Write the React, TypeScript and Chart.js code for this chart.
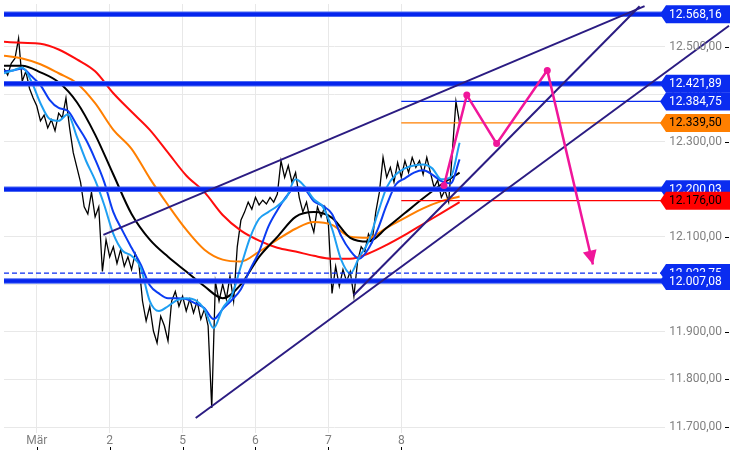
import React, { useEffect, useRef } from 'react';
import { Chart, registerables } from 'chart.js';
Chart.register(...registerables);

// ---- axis ranges (day index: 0 = 1 März) ----
const X_MIN = -0.45;
const X_MAX = 8.618;
const Y_MIN = 11687.5;
const Y_MAX = 12589.6;

const dayTicks = [0, 1, 2, 3, 4, 5];
const dayLabels = ['Mär', '2', '5', '6', '7', '8'];
const priceTicks = [11700, 11800, 11900, 12000, 12100, 12200, 12300, 12400, 12500];

// ---- price (intraday) ----
const priceStart = -0.45;
const priceStep = 0.05;
const price = [
  12454, 12440, 12465, 12475, 12517, 12427, 12448, 12412, 12392, 12375,
  12344, 12356, 12329, 12346, 12323, 12360, 12350, 12392, 12329, 12277,
  12246, 12215, 12163, 12148, 12194, 12142, 12163, 12027, 12094, 12058,
  12079, 12044, 12073, 12038, 12058, 12031, 12065, 12044, 11965, 11923,
  11954, 11902, 11877, 11933, 11913, 11881, 11965, 11985, 11954, 11975,
  11944, 11969, 11940, 11965, 11927, 11948, 11913, 11740, 12006, 11965,
  12000, 11969, 12017, 11965, 12079, 12135, 12152, 12173, 12158, 12183,
  12167, 12177, 12169, 12183, 12173, 12190, 12260, 12225, 12250, 12215,
  12235, 12183, 12152, 12173, 12135, 12110, 12163, 12142, 12163, 12127,
  11981, 12038, 11996, 12031, 12006, 12027, 11975, 12048, 12079, 12069,
  12106, 12090, 12152, 12194, 12267, 12225, 12246, 12215, 12256, 12225,
  12260, 12235, 12267, 12246, 12260, 12231, 12267, 12235, 12204, 12219,
  12183, 12198, 12173, 12277, 12384.75, 12339.5,
];

// ---- moving averages ----
const slowStart = -0.45;
const slowStep = 0.25;
const maRed = [
  12510, 12508, 12506, 12494, 12473, 12448, 12402, 12363, 12325, 12277,
  12229, 12194, 12146, 12113, 12092, 12077, 12069, 12060, 12054, 12054,
  12065, 12083, 12104, 12127, 12150, 12173,
];
const maOrange = [
  12481, 12475, 12463, 12444, 12423, 12381, 12325, 12285, 12223, 12167,
  12115, 12073, 12052, 12048, 12069, 12094, 12117, 12131, 12125, 12100,
  12098, 12119, 12140, 12160, 12175, 12185,
];
const maBlack = [
  12460, 12460, 12446, 12425, 12383, 12315, 12231, 12148, 12094, 12058,
  12027, 11996, 11971, 12000, 12058, 12100, 12142, 12152, 12140, 12098,
  12090, 12119, 12150, 12181, 12210, 12235,
];
const fastStart = -0.45;
const fastStep = 0.125;
const maBlue = [
  12448, 12450, 12454, 12438, 12419, 12388, 12371, 12365, 12335, 12304,
  12263, 12215, 12152, 12113, 12077, 12042, 11998, 11981, 11971, 11971,
  11969, 11960, 11950, 11927, 11948, 11967, 11990, 12031, 12069, 12121,
  12156, 12185, 12204, 12200, 12175, 12165, 12148, 12102, 12071, 12054,
  12075, 12115, 12167, 12210, 12223, 12235, 12240, 12231, 12217, 12212,
  12263,
];
const maLightBlue = [
  12444, 12450, 12456, 12427, 12381, 12348, 12344, 12358, 12310, 12260,
  12219, 12167, 12106, 12071, 12060, 12035, 11965, 11944, 11954, 11967,
  11971, 11967, 11948, 11908, 11950, 11977, 12038, 12098, 12138, 12152,
  12165, 12183, 12221, 12206, 12179, 12163, 12117, 12052, 12023, 12058,
  12090, 12148, 12204, 12231, 12244, 12250, 12252, 12244, 12221, 12225,
  12298,
];

// ---- trend lines ----
const trendUpperX = [0.913, 8.338];
const trendUpperY = [12104, 12585];
const trendLowerX = [2.18, 9.496];
const trendLowerY = [11719, 12544];
const trendSteepX = [4.346, 8.27];
const trendSteepY = [11977, 12585];

// ---- projection ----
const projX = [5.586, 5.899, 6.308, 7.003, 7.629];
const projY = [12208, 12398, 12296, 12450, 12042];

// ---- horizontal levels ----
const thickLevels = [12568.16, 12421.89, 12200.03, 12007.08];
const thinLevels = [12384.75, 12339.5, 12176.0];
const thinColors = ['#0a2cf0', '#ff7f00', '#ff0000'];
const thinFrom = 5;
const dashedLevel = 12023.75;

const tagValues = [12568.16, 12421.89, 12384.75, 12339.5, 12200.03, 12176.0, 12023.75, 12007.08];
const tagFills = ['#0a2cf0', '#0a2cf0', '#0a2cf0', '#ff7f00', '#0a2cf0', '#ff0000', '#0a2cf0', '#0a2cf0'];
const tagText = ['#fff', '#fff', '#fff', '#000', '#fff', '#000', '#fff', '#fff'];

const FONT = '12px Roboto, "Liberation Sans", sans-serif';
const PINK = '#f0169a';
const INDIGO = '#2b1c82';

function fmt(v: number): string {
  const [i, d] = v.toFixed(2).split('.');
  return i.replace(/\B(?=(\d{3})+(?!\d))/g, '.') + ',' + d;
}
const grid = (start: number, step: number, n: number) =>
  Array.from({ length: n }, (_, i) => +(start + i * step).toFixed(4));
const pts = (xs: number[], ys: number[]) => ys.map((y, i) => ({ x: xs[i], y }));

const overlayPlugin = {
  id: 'overlay',
  afterDatasetsDraw(chart: any) {
    const meta = chart.getDatasetMeta(0);
    const els = meta.data;
    const a = els[els.length - 2];
    const b = els[els.length - 1];
    const ctx = chart.ctx;
    const ang = Math.atan2(b.y - a.y, b.x - a.x);
    const L = 14, W = 7;
    ctx.save();
    ctx.fillStyle = PINK;
    ctx.beginPath();
    ctx.moveTo(b.x, b.y);
    ctx.lineTo(b.x - L * Math.cos(ang) + W * Math.sin(ang), b.y - L * Math.sin(ang) - W * Math.cos(ang));
    ctx.lineTo(b.x - L * Math.cos(ang) - W * Math.sin(ang), b.y - L * Math.sin(ang) + W * Math.cos(ang));
    ctx.closePath();
    ctx.fill();
    ctx.restore();
  },
  afterDraw(chart: any) {
    const ctx = chart.ctx;
    const ys = chart.scales.y;
    const xs = chart.scales.x;
    const area = chart.chartArea;
    ctx.save();
    ctx.font = FONT;
    ctx.textBaseline = 'middle';
    priceTicks.forEach((t) => {
      const py = ys.getPixelForValue(t);
      ctx.fillStyle = '#808080';
      ctx.textAlign = 'right';
      ctx.fillText(fmt(t), 722, py);
      ctx.fillStyle = '#000';
      ctx.fillRect(725, Math.round(py), 4, 1);
    });
    dayTicks.forEach((d, i) => {
      const px = xs.getPixelForValue(d);
      ctx.fillStyle = '#808080';
      ctx.textAlign = 'center';
      ctx.fillText(dayLabels[i], px, area.bottom + 8);
      ctx.fillStyle = '#000';
      ctx.fillRect(Math.round(px), 447, 1, 3);
    });
    tagValues.forEach((v, i) => {
      const py = ys.getPixelForValue(v);
      const h = 9;
      ctx.fillStyle = tagFills[i];
      ctx.beginPath();
      ctx.moveTo(660, py);
      ctx.lineTo(666, py - h);
      ctx.lineTo(730, py - h);
      ctx.lineTo(730, py + h);
      ctx.lineTo(666, py + h);
      ctx.closePath();
      ctx.fill();
      ctx.fillStyle = tagText[i];
      ctx.textAlign = 'left';
      ctx.fillText(fmt(v), 669, py + 0.5);
    });
    ctx.restore();
  },
};

export default function App() {
  const ref = useRef<HTMLCanvasElement>(null);
  useEffect(() => {
    document.body.style.margin = '0';
    const priceX = grid(priceStart, priceStep, price.length);
    const slowX = grid(slowStart, slowStep, maRed.length);
    const fastX = grid(fastStart, fastStep, maBlue.length);
    const line = (data: any[], color: string, width: number, order: number, extra: any = {}) => ({
      data,
      borderColor: color,
      borderWidth: width,
      pointRadius: 0,
      fill: false,
      order,
      ...extra,
    });
    const datasets: any[] = [
      line(pts(projX, projY), PINK, 2.5, 0, {
        pointRadius: [3.5, 3.5, 3.5, 3.5, 0],
        pointBackgroundColor: PINK,
        pointBorderWidth: 0,
        clip: false,
      }),
      line(pts(trendUpperX, trendUpperY), INDIGO, 2, 1, { clip: false }),
      line(pts(trendLowerX, trendLowerY), INDIGO, 2, 1, { clip: false }),
      line(pts(trendSteepX, trendSteepY), INDIGO, 2, 1, { clip: false }),
    ];
    thickLevels.forEach((v) => {
      datasets.push(line(pts([X_MIN, X_MAX], [v, v]), '#0424ee', 3.5, 2));
      datasets.push(line(pts([X_MIN, X_MAX], [v, v]), '#4a68f2', 5.5, 3));
    });
    thinLevels.forEach((v, i) => {
      datasets.push(line(pts([thinFrom, X_MAX], [v, v]), thinColors[i], 1.2, 4));
    });
    datasets.push(line(pts([X_MIN, X_MAX], [dashedLevel, dashedLevel]), '#0a2cf0', 1.2, 4, { borderDash: [5, 3] }));
    const smooth = { cubicInterpolationMode: 'monotone' };
    datasets.push(line(pts(fastX, maLightBlue), '#1e9ff2', 2, 5, smooth));
    datasets.push(line(pts(fastX, maBlue), '#0b3cf2', 2, 6, smooth));
    datasets.push(line(pts(slowX, maBlack), '#000000', 2, 7, smooth));
    datasets.push(line(pts(slowX, maOrange), '#ff7f00', 2, 8, smooth));
    datasets.push(line(pts(slowX, maRed), '#ff0d0d', 2, 9, smooth));
    datasets.push(line(pts(priceX, price), '#000000', 1.3, 10));

    const chart = new Chart(ref.current as HTMLCanvasElement, {
      type: 'line',
      data: { datasets },
      options: {
        animation: false,
        responsive: false,
        events: [],
        layout: { padding: { left: 0, right: 65, top: 0, bottom: 17 } },
        plugins: { legend: { display: false }, tooltip: { enabled: false } },
        scales: {
          x: {
            type: 'linear',
            min: X_MIN,
            max: X_MAX,
            afterBuildTicks: (s: any) => {
              s.ticks = dayTicks.map((v) => ({ value: v }));
            },
            ticks: { display: false },
            grid: { color: '#e8e8e8', drawTicks: false, lineWidth: 1 },
            border: { display: false },
          },
          y: {
            type: 'linear',
            position: 'right',
            min: Y_MIN,
            max: Y_MAX,
            afterBuildTicks: (s: any) => {
              s.ticks = priceTicks.map((v) => ({ value: v }));
            },
            ticks: { display: false },
            grid: { color: '#e8e8e8', drawTicks: false, lineWidth: 1 },
            border: { display: false },
          },
        },
      },
      plugins: [overlayPlugin],
    } as any);
    return () => chart.destroy();
  }, []);
  return (
    <div style={{ position: 'fixed', left: 0, top: 0, width: 730, height: 450, background: '#fff' }}>
      <canvas ref={ref} width={730} height={450} style={{ display: 'block' }} />
    </div>
  );
}
